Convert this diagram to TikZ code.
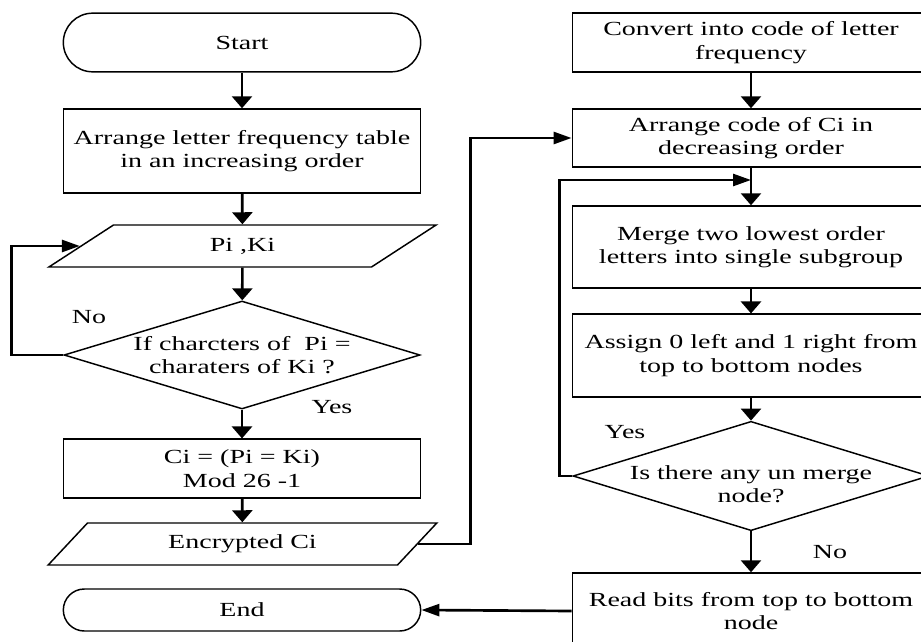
\documentclass[tikz,border=0pt]{standalone}
\usepackage{fontspec}
\setmainfont[FakeStretch=1.4]{Liberation Serif}
\usetikzlibrary{shapes.geometric,arrows.meta}

\tikzset{
  every node/.style={font=\fontsize{15}{17.5}\selectfont},
  box/.style={draw, line width=1.1pt, minimum width=268pt, align=center, inner sep=2pt},
  term/.style={box},
  io/.style={draw, line width=1.1pt, trapezium, trapezium left angle=53.6,
    trapezium right angle=126.4, trapezium stretches=true,
    minimum width=292pt, minimum height=31.5pt, align=center},
  test/.style={draw, line width=1.1pt, diamond, aspect=3.3, inner sep=-6pt, align=center},
  arr/.style={line width=2pt, -{Triangle[length=9pt,width=15pt]}},
  harr/.style={line width=2pt, -{Triangle[length=13.5pt,width=9pt]}},
  lbl/.style={inner sep=0pt},
}

\begin{document}
\begin{tikzpicture}[x=0.75pt, y=-0.75pt]
        \useasboundingbox (0,0) rectangle (921,642);
        \clip (0,0) rectangle (921,642);
        % Left column
        \node[term, minimum height=44pt, rounded corners=22pt] (start) at (242,42.5) {Start};
        \node[box, minimum height=63pt] (arrange) at (242,151) {Arrange letter frequency table\\in an increasing order};
        \node[io] (pk) at (242.5,246) {Pi ,Ki};
        \node[test, minimum width=267pt, minimum height=81pt] (check) at (242,355) {If charcters of\ \ Pi =\\charaters of Ki ?};
        \node[box, minimum height=44pt] (cipher) at (242,468.5) {Ci = (Pi = Ki)\\Mod 26 -1};
        \node[io] (enc) at (242.5,544) {Encrypted Ci};
        \node[term, minimum height=31.5pt, rounded corners=15.75pt] (end) at (242,610) {End};
        % Right column
        \node[box, minimum height=44pt] (convert) at (751,42.5) {Convert into code of letter\\frequency};
        \node[box, minimum height=43.5pt] (order) at (751,138) {Arrange code of Ci in\\decreasing order};
        \node[box, minimum height=61.5pt] (merge) at (751,247) {Merge two lowest order\\letters into single subgroup};
        \node[box, minimum height=62pt] (assign) at (751,355.5) {Assign 0 left and 1 right from\\top to bottom nodes};
        \node[test, minimum width=267pt, minimum height=82pt] (more) at (751,476) {\raisebox{-11.5pt}[0pt][0pt]{\begin{tabular}{@{}c@{}}Is there any un merge\\node?\end{tabular}}};
        \node[box, minimum height=57pt] (read) at (751,611) {Read bits from top to bottom\\node};
        \coordinate (back) at (751,180);
        % Branch labels
        \node[lbl] (no1) at (89,317) {No};
        \node[lbl] (yes1) at (332,407) {Yes};
        \node[lbl] (yes2) at (625,432) {Yes};
        \node[lbl] (no2) at (830,552) {No};
        % Flow left
        \draw[arr] (start) -- (arrange);
        \draw[arr] (arrange) -- (pk);
        \draw[arr] (pk) -- (check);
        \draw[arr] (check) -- (cipher);
        \draw[arr] (cipher) -- (enc);
        \draw[harr] (check.west) -- ++(-52,0) |- (pk.west);
        % Across to right column
        \draw[harr] (enc.east) -- ++(52,0) |- (order.west);
        % Flow right
        \draw[arr] (convert) -- (order);
        \draw[arr] (order) -- (merge);
        \draw[arr] (merge) -- (assign);
        \draw[arr] (assign) -- (more);
        \draw[arr] (more) -- (read);
        \draw[harr] (more.west) -- ++(-13,0) |- (back);
        \draw[harr] (read.west) -- (end.east);
\end{tikzpicture}
\end{document}
